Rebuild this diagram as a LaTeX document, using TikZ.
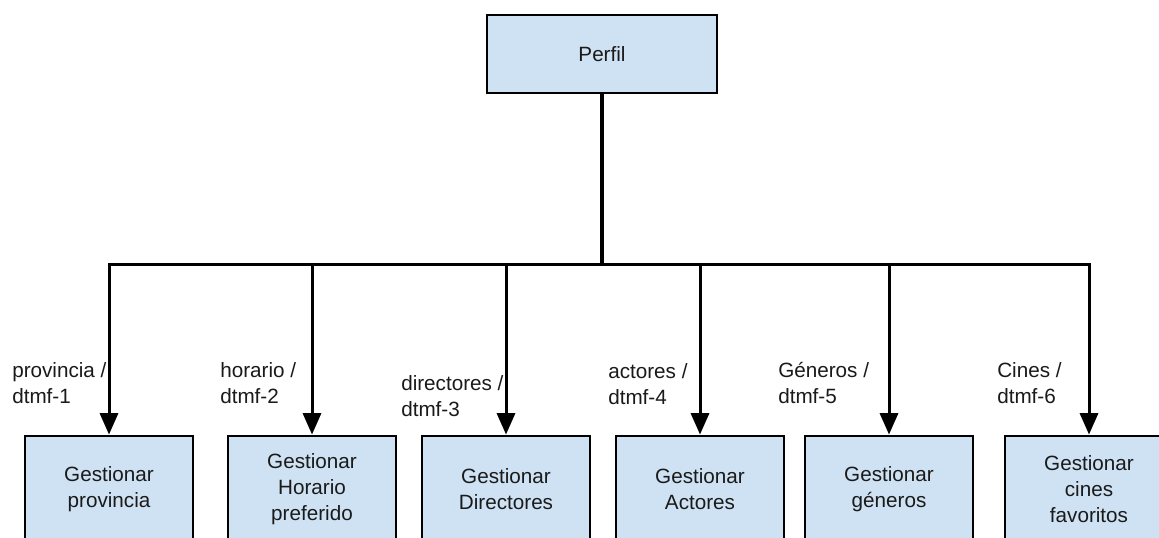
\documentclass[tikz,border=0pt]{standalone}
\usepackage{fontspec}
\setmainfont{Liberation Sans}
\usetikzlibrary{arrows.meta}
\definecolor{boxfill}{HTML}{CFE2F3}
\definecolor{ink}{HTML}{1A1A1A}
\begin{document}
\begin{tikzpicture}[x=0.75pt,y=-0.75pt,
  txt/.style={font=\fontsize{15.5}{19.5}\selectfont,text=ink},
  topbox/.style={draw=black,line width=2.2pt,fill=boxfill,minimum width=172.5pt,minimum height=58.5pt,txt,inner sep=0pt},
  subbox/.style={draw=black,line width=2.2pt,fill=boxfill,minimum width=126pt,minimum height=79.5pt,txt,align=center,inner sep=0pt},
  lbl/.style={txt,align=left,anchor=west,inner sep=0pt},
  wire/.style={line width=2.25pt,line cap=rect},
  arr/.style={wire,-{Triangle[width=13.5pt,length=16pt]}}]
\useasboundingbox (0,0) rectangle (1159,537);
\clip (0,0) rectangle (1159,537);
\fill[white] (0,0) rectangle (1159,537);
% nodes
\node[topbox] (perfil) at (602,54) {Perfil};
\node[subbox] (b1) at (109,489) {Gestionar\\provincia};
\node[subbox] (b2) at (312,489) {Gestionar\\Horario\\preferido};
\node[subbox] (b3) at (506,489) {Gestionar\\Directores};
\node[subbox] (b4) at (700,489) {Gestionar\\Actores};
\node[subbox] (b5) at (889,489) {Gestionar\\géneros};
\node[subbox] (b6) at (1089,489) {Gestionar\\cines\\favoritos};
% labels
\node[lbl] (l1) at (12,383) {provincia /\\dtmf-1};
\node[lbl] (l2) at (220,383) {horario /\\dtmf-2};
\node[lbl] (l3) at (401,396) {directores /\\dtmf-3};
\node[lbl] (l4) at (608,384) {actores /\\dtmf-4};
\node[lbl] (l5) at (778,383) {Géneros /\\dtmf-5};
\node[lbl] (l6) at (997,383) {Cines /\\dtmf-6};
% bus coordinates
\coordinate (j) at (perfil.south |- 0,264);
\coordinate (c1) at (b1.north |- j);
\coordinate (c2) at (b2.north |- j);
\coordinate (c3) at (b3.north |- j);
\coordinate (c4) at (b4.north |- j);
\coordinate (c5) at (b5.north |- j);
\coordinate (c6) at (b6.north |- j);
% connectors
\draw[wire,line width=3pt] (perfil.south) -- (j);
\draw[wire] (c1) -- (c6);
\foreach \i in {1,...,6} {\draw[arr] (c\i) -- (b\i.north);}
\end{tikzpicture}
\end{document}
